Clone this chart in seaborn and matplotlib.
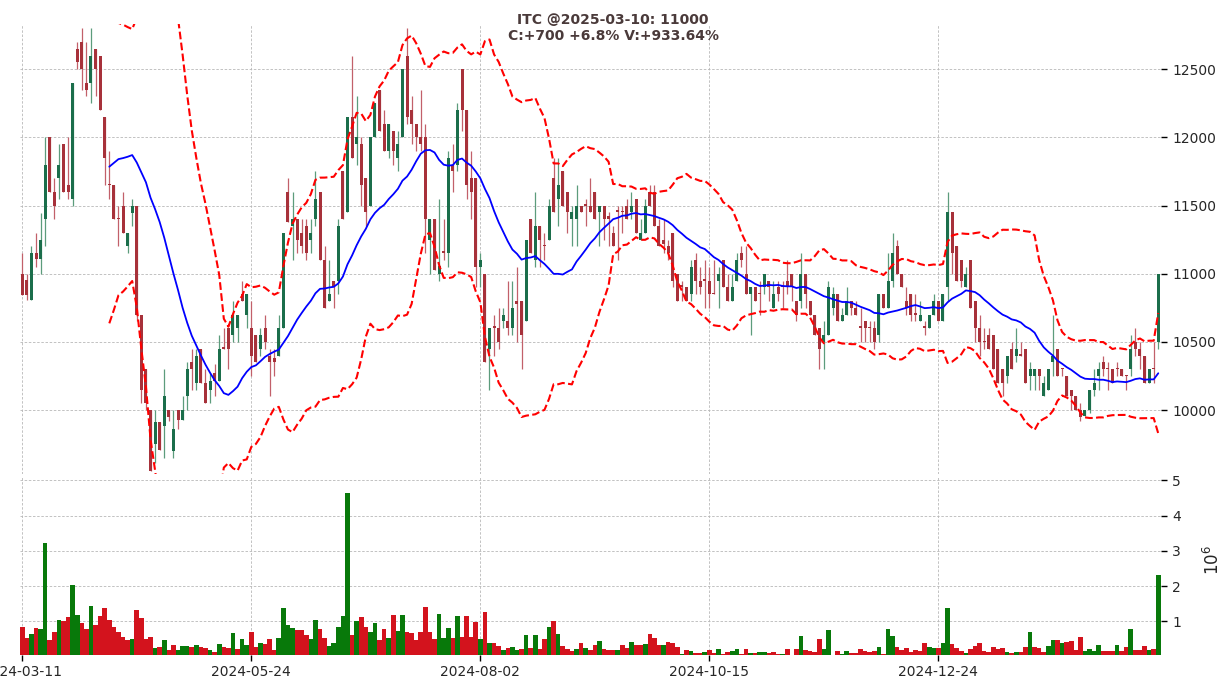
import numpy as np
import pandas as pd
import seaborn as sns
import matplotlib
matplotlib.use('Agg')
import matplotlib.pyplot as plt

# daily OHLC, 2024-03-11 .. 2025-03-10 (249 sessions)
opens = [11000, 10955, 10810, 11150, 11105, 11400, 12000, 11600, 11705, 11950, 11650, 11550, 12650, 12700, 12400, 12400, 12650, 12600, 12150, 11660,
         11650, 11410, 11500, 11200, 11445, 11500, 10700, 10300, 10000, 9750, 9910, 9880, 10000, 9700, 10000, 9930, 10100, 10350, 10200, 10450,
         10200, 10150, 10270, 10210, 10460, 10600, 10550, 10600, 10850, 10700, 10600, 10550, 10450, 10600, 10400, 10380, 10400, 10600, 11600, 11350,
         11400, 11300, 11350, 11250, 11400, 11600, 11100, 10800, 10950, 10950, 11750, 11450, 12150, 11950, 11950, 11700, 11500, 12000, 12350, 12100,
         11900, 12050, 11850, 12000, 12600, 12200, 12100, 12000, 12000, 11250, 11400, 11000, 11170, 11150, 11800, 11800, 12500, 12200, 11700, 11700,
         11050, 11000, 10450, 10620, 10600, 10650, 10650, 10600, 10800, 10800, 10650, 11400, 11100, 11350, 11210, 11250, 11700, 11550, 11750, 11600,
         11400, 11400, 11500, 11510, 11500, 11600, 11450, 11500, 11420, 11300, 11470, 11460, 11500, 11450, 11550, 11250, 11300, 11600, 11600, 11350,
         11250, 11200, 11300, 11000, 10920, 10900, 10850, 11100, 10950, 10960, 10950, 10860, 10950, 11100, 10900, 10800, 10950, 11150, 11000, 10850,
         10900, 10860, 10900, 10950, 10750, 10900, 10910, 10950, 11000, 10800, 10800, 11000, 10800, 10700, 10600, 10500, 10550, 10750, 10850, 10650,
         10700, 10800, 10750, 10620, 10650, 10610, 10600, 10550, 10850, 10750, 10950, 11200, 11000, 10800, 10850, 10710, 10650, 10620, 10600, 10700,
         10800, 10650, 10900, 11450, 11200, 11100, 10900, 11100, 10800, 10600, 10510, 10550, 10550, 10450, 10300, 10250, 10450, 10400, 10410, 10450,
         10250, 10250, 10300, 10100, 10150, 10350, 10450, 10310, 10250, 10150, 10100, 10000, 9960, 10000, 10150, 10250, 10350, 10310, 10300, 10310,
         10300, 10260, 10300, 10500, 10450, 10400, 10200, 10310, 10500]
highs = [11150, 11000, 11200, 11295, 11445, 12000, 12000, 11705, 11950, 11950, 12000, 12400, 12700, 12800, 12700, 12800, 12650, 12600, 12150, 11900,
         11650, 11500, 11600, 11300, 11550, 11500, 10700, 10300, 10000, 10000, 9910, 10300, 10000, 10000, 10000, 10100, 10350, 10450, 10450, 10450,
         10300, 10270, 10340, 10550, 10600, 10600, 10800, 10700, 10950, 10850, 10800, 10550, 10600, 10700, 10450, 10450, 10700, 11300, 11700, 11600,
         11400, 11400, 11400, 11400, 11750, 11600, 11200, 11100, 10950, 11400, 11750, 12150, 12600, 12300, 12000, 11700, 12000, 12250, 12350, 12200,
         12100, 12050, 12050, 12500, 12800, 12300, 12100, 12350, 12100, 11400, 11400, 11550, 11400, 11900, 11950, 12250, 12500, 12200, 11900, 11700,
         11150, 11000, 10600, 10700, 10750, 10750, 10950, 10950, 11050, 10800, 11250, 11400, 11600, 11350, 11300, 11550, 11850, 11850, 11750, 11600,
         11500, 11650, 11500, 11550, 11700, 11600, 11500, 11500, 11450, 11350, 11500, 11500, 11550, 11600, 11550, 11400, 11550, 11650, 11650, 11400,
         11400, 11250, 11300, 11000, 10950, 10900, 11100, 11150, 11050, 11100, 11050, 11100, 11050, 11100, 11000, 11000, 11150, 11200, 11200, 10900,
         10900, 10950, 11000, 10950, 10950, 10950, 10950, 11100, 11000, 10800, 11150, 11000, 10800, 10700, 10600, 10650, 10950, 10900, 10850, 10750,
         10900, 10800, 10800, 10750, 10650, 10650, 10650, 10850, 10850, 11150, 11300, 11250, 11000, 10900, 10850, 10850, 10800, 10650, 10700, 10850,
         10800, 10850, 11600, 11450, 11200, 11100, 11050, 11100, 10800, 10700, 10600, 10600, 10550, 10450, 10300, 10400, 10500, 10600, 10500, 10450,
         10350, 10300, 10300, 10250, 10300, 10700, 10450, 10310, 10250, 10150, 10100, 10050, 10000, 10150, 10300, 10350, 10400, 10350, 10300, 10350,
         10300, 10260, 10550, 10600, 10500, 10400, 10300, 10500, 11000]
lows = [10845, 10810, 10810, 11050, 11000, 11200, 11600, 11400, 11550, 11600, 11550, 11500, 12500, 12350, 12300, 12250, 12300, 12200, 11650, 11550,
        11400, 11200, 11300, 11150, 11350, 10650, 10050, 10000, 9550, 9610, 9710, 9650, 9920, 9650, 9860, 9930, 10000, 10150, 10150, 10200,
        10050, 10050, 10100, 10210, 10450, 10300, 10500, 10500, 10800, 10600, 10250, 10350, 10400, 10450, 10100, 10250, 10400, 10600, 11380, 11100,
        11150, 11150, 11100, 11150, 11350, 11100, 10750, 10800, 10750, 10850, 11400, 11450, 11850, 11800, 11500, 11350, 11500, 12000, 12050, 11900,
        11850, 11800, 11750, 12000, 12100, 11950, 11900, 11900, 11150, 11000, 11030, 10950, 11100, 11050, 11600, 11750, 12050, 11550, 11400, 10900,
        10900, 10350, 10150, 10400, 10450, 10600, 10550, 10550, 10500, 10300, 10650, 11150, 11050, 11050, 11100, 11250, 11450, 11350, 11500, 11300,
        11200, 11200, 11450, 11350, 11450, 11400, 11200, 11250, 11200, 11200, 11100, 11300, 11400, 11400, 11300, 11250, 11300, 11500, 11350, 11200,
        11150, 11100, 10900, 10800, 10800, 10800, 10800, 10850, 10850, 10750, 10750, 10850, 10750, 10900, 10800, 10800, 10950, 11050, 10850, 10550,
        10800, 10700, 10850, 10800, 10750, 10800, 10750, 10850, 10800, 10650, 10750, 10750, 10700, 10550, 10300, 10300, 10550, 10700, 10650, 10650,
        10700, 10700, 10700, 10500, 10500, 10500, 10450, 10500, 10750, 10750, 10900, 11000, 10900, 10700, 10650, 10650, 10650, 10550, 10600, 10700,
        10650, 10650, 10800, 11000, 10950, 10900, 10900, 10750, 10500, 10400, 10450, 10450, 10300, 10200, 10100, 10200, 10300, 10350, 10400, 10200,
        10150, 10150, 10150, 10100, 10150, 10250, 10250, 10250, 10100, 10000, 10000, 9920, 9960, 9980, 10100, 10150, 10250, 10150, 10200, 10250,
        10250, 10150, 10250, 10400, 10300, 10200, 10200, 10200, 10450]
closes = [10845, 10845, 11150, 11105, 11250, 11800, 11600, 11500, 11800, 11600, 11600, 12400, 12550, 12500, 12350, 12600, 12500, 12200, 11850, 11650,
          11400, 11400, 11300, 11300, 11500, 10700, 10150, 10050, 9550, 9910, 9710, 10100, 9950, 9860, 9930, 10000, 10300, 10300, 10400, 10200,
          10050, 10210, 10210, 10450, 10450, 10450, 10700, 10700, 10800, 10850, 10400, 10350, 10550, 10500, 10350, 10350, 10600, 11300, 11380, 11400,
          11250, 11200, 11150, 11300, 11550, 11100, 10750, 10850, 10900, 11350, 11400, 12150, 11850, 12000, 11650, 11450, 12000, 12250, 12050, 11900,
          12100, 11900, 11950, 12500, 12150, 12100, 12000, 11950, 11400, 11400, 11030, 11060, 11150, 11850, 11750, 12200, 12200, 11650, 11600, 11050,
          11100, 10350, 10600, 10600, 10500, 10700, 10600, 10750, 10780, 10550, 11250, 11150, 11350, 11250, 11200, 11500, 11450, 11650, 11500, 11450,
          11450, 11500, 11450, 11500, 11450, 11400, 11500, 11400, 11400, 11200, 11450, 11450, 11400, 11500, 11300, 11300, 11500, 11500, 11350, 11200,
          11220, 11150, 10950, 10800, 10900, 10800, 11050, 10950, 10900, 10950, 10850, 10850, 11000, 10900, 10800, 10900, 11100, 11100, 10850, 10900,
          10800, 10850, 11000, 10900, 10850, 10850, 10900, 10900, 10900, 10700, 11000, 10850, 10700, 10550, 10450, 10550, 10900, 10850, 10650, 10700,
          10800, 10750, 10700, 10600, 10600, 10600, 10500, 10850, 10750, 10950, 11150, 11000, 10900, 10750, 10700, 10700, 10700, 10600, 10700, 10800,
          10650, 10850, 11450, 11150, 10950, 10950, 11000, 10750, 10600, 10500, 10500, 10450, 10300, 10200, 10200, 10400, 10300, 10450, 10400, 10200,
          10300, 10300, 10250, 10200, 10300, 10400, 10250, 10300, 10100, 10100, 10000, 9950, 10000, 10150, 10200, 10300, 10300, 10300, 10200, 10300,
          10250, 10250, 10450, 10450, 10400, 10200, 10300, 10300, 11000]
# volume, millions of shares
volumes = [0.84, 0.53, 0.64, 0.81, 0.78, 3.23, 0.47, 0.70, 1.04, 1.01, 1.12, 2.02, 1.18, 0.95, 0.78, 1.43, 0.90, 1.15, 1.37, 1.04,
           0.84, 0.70, 0.56, 0.47, 0.50, 1.32, 1.09, 0.50, 0.56, 0.25, 0.28, 0.47, 0.19, 0.33, 0.19, 0.31, 0.31, 0.28, 0.33, 0.28,
           0.25, 0.19, 0.14, 0.36, 0.28, 0.25, 0.67, 0.22, 0.50, 0.33, 0.70, 0.28, 0.39, 0.36, 0.50, 0.19, 0.53, 1.37, 0.90, 0.81,
           0.75, 0.75, 0.61, 0.50, 1.04, 0.78, 0.53, 0.31, 0.39, 0.84, 1.15, 4.64, 0.61, 1.01, 1.12, 0.84, 0.70, 0.95, 0.47, 0.78,
           0.53, 1.18, 0.73, 1.18, 0.70, 0.67, 0.47, 0.70, 1.40, 0.70, 0.50, 1.21, 0.53, 0.81, 0.53, 1.15, 0.56, 1.15, 0.56, 0.98,
           0.50, 1.26, 0.39, 0.39, 0.31, 0.19, 0.25, 0.28, 0.19, 0.22, 0.61, 0.25, 0.61, 0.22, 0.50, 0.84, 1.01, 0.64, 0.31, 0.22,
           0.16, 0.22, 0.39, 0.25, 0.19, 0.33, 0.44, 0.22, 0.19, 0.19, 0.19, 0.33, 0.25, 0.42, 0.33, 0.33, 0.36, 0.64, 0.53, 0.33,
           0.33, 0.42, 0.39, 0.28, 0.08, 0.19, 0.16, 0.11, 0.11, 0.14, 0.19, 0.11, 0.22, 0.08, 0.14, 0.16, 0.22, 0.08, 0.22, 0.11,
           0.11, 0.14, 0.14, 0.11, 0.14, 0.08, 0.08, 0.22, 0.03, 0.22, 0.59, 0.19, 0.16, 0.14, 0.50, 0.22, 0.76, 0.03, 0.16, 0.08,
           0.16, 0.11, 0.11, 0.22, 0.16, 0.14, 0.16, 0.28, 0.08, 0.78, 0.59, 0.28, 0.19, 0.25, 0.14, 0.19, 0.16, 0.39, 0.28, 0.25,
           0.25, 0.39, 1.37, 0.36, 0.25, 0.16, 0.11, 0.22, 0.31, 0.39, 0.16, 0.14, 0.28, 0.22, 0.25, 0.14, 0.11, 0.14, 0.14, 0.28,
           0.70, 0.28, 0.25, 0.14, 0.31, 0.47, 0.47, 0.39, 0.42, 0.44, 0.19, 0.56, 0.16, 0.22, 0.16, 0.33, 0.16, 0.16, 0.16, 0.33,
           0.16, 0.28, 0.78, 0.19, 0.19, 0.31, 0.19, 0.22, 2.33]

tick_pos = [0, 50, 100, 150, 200]
tick_labels = ['2024-03-11', '2024-05-24', '2024-08-02', '2024-10-15', '2024-12-24']
price_ticks = [10000, 10500, 11000, 11500, 12000, 12500]
vol_ticks = [1, 2, 3, 4, 5]
title = 'ITC @2025-03-10: 11000\nC:+700 +6.8% V:+933.64%'

n = len(closes)
assert len(opens) == n and len(highs) == n and len(lows) == n and len(volumes) == n, \
    (len(opens), len(highs), len(lows), len(closes), len(volumes))

df = pd.DataFrame({'open': opens, 'high': highs, 'low': lows, 'close': closes, 'volume': volumes})
df['idx'] = np.arange(n)
# 20 day bollinger
df['ma20'] = df['close'].rolling(20).mean()
sd = df['close'].rolling(20).std()
df['upper'] = df['ma20'] + 2 * sd
df['lower'] = df['ma20'] - 2 * sd

up = (df['close'] >= df['open']).values
vol_up = (df['close'] > df['close'].shift(1)).values

sns.set_theme(style='white')
plt.rcParams['font.family'] = ['DejaVu Sans']

fig = plt.figure(figsize=(12.26, 6.9), dpi=100)
ax = fig.add_axes([0.0163, 0.313, 0.9307, 0.652])
axv = fig.add_axes([0.0163, 0.0507, 0.9307, 0.2594], sharex=ax)

# candles
ax.vlines(df['idx'], df['low'], df['high'], colors=np.where(up, '#5c9c7c', '#c2606a'), lw=0.9, zorder=2)
body_bottom = np.minimum(df['open'], df['close'])
body_h = np.maximum((df['close'] - df['open']).abs(), 8)
ax.bar(df['idx'], body_h, bottom=body_bottom, width=0.65,
       color=np.where(up, '#1b6e4b', '#a7313a'), lw=0, zorder=3)

sns.lineplot(data=df, x='idx', y='ma20', ax=ax, color='#0000ff', lw=1.3, estimator=None, zorder=4)
sns.lineplot(data=df, x='idx', y='upper', ax=ax, color='#ff0000', lw=1.5, linestyle='--', estimator=None, zorder=4)
sns.lineplot(data=df, x='idx', y='lower', ax=ax, color='#ff0000', lw=1.5, linestyle='--', estimator=None, zorder=4)

# volume
axv.bar(df['idx'], df['volume'], width=1.0, color=np.where(vol_up, '#08790a', '#d3131d'), lw=0, zorder=3)

for a in (ax, axv):
    for s in a.spines.values():
        s.set_visible(False)
    a.grid(True, color='#b8b8b8', linestyle=(0, (3, 2)), lw=0.6)
    a.set_axisbelow(True)
    a.yaxis.tick_right()
    a.set_xlabel('')
    a.set_ylabel('')
    a.tick_params(axis='y', right=True, length=4, width=1, color='black', labelsize=10, pad=4)

ax.set_xlim(-0.5, 248.6)
ax.set_ylim(9531, 12830)
ax.set_yticks(price_ticks)
ax.set_xticks(tick_pos)
ax.tick_params(axis='x', length=0, labelbottom=False)

axv.set_ylim(0.05, 5.12)
axv.set_yticks(vol_ticks)
axv.set_xticks(tick_pos)
axv.set_xticklabels(tick_labels)
axv.tick_params(axis='x', bottom=True, length=4, width=1, color='black', labelsize=10, pad=3)

fig.text(1213 / 1226, 1 - 560 / 690, r'$10^{6}$', rotation=90, ha='center', va='center', fontsize=12)
fig.text(0.5, 1 - 28 / 690, title, ha='center', va='center', fontsize=10, fontweight='bold',
         color='#4a3a3a', linespacing=1.15, zorder=10)

plt.savefig('out.png', dpi=100)
